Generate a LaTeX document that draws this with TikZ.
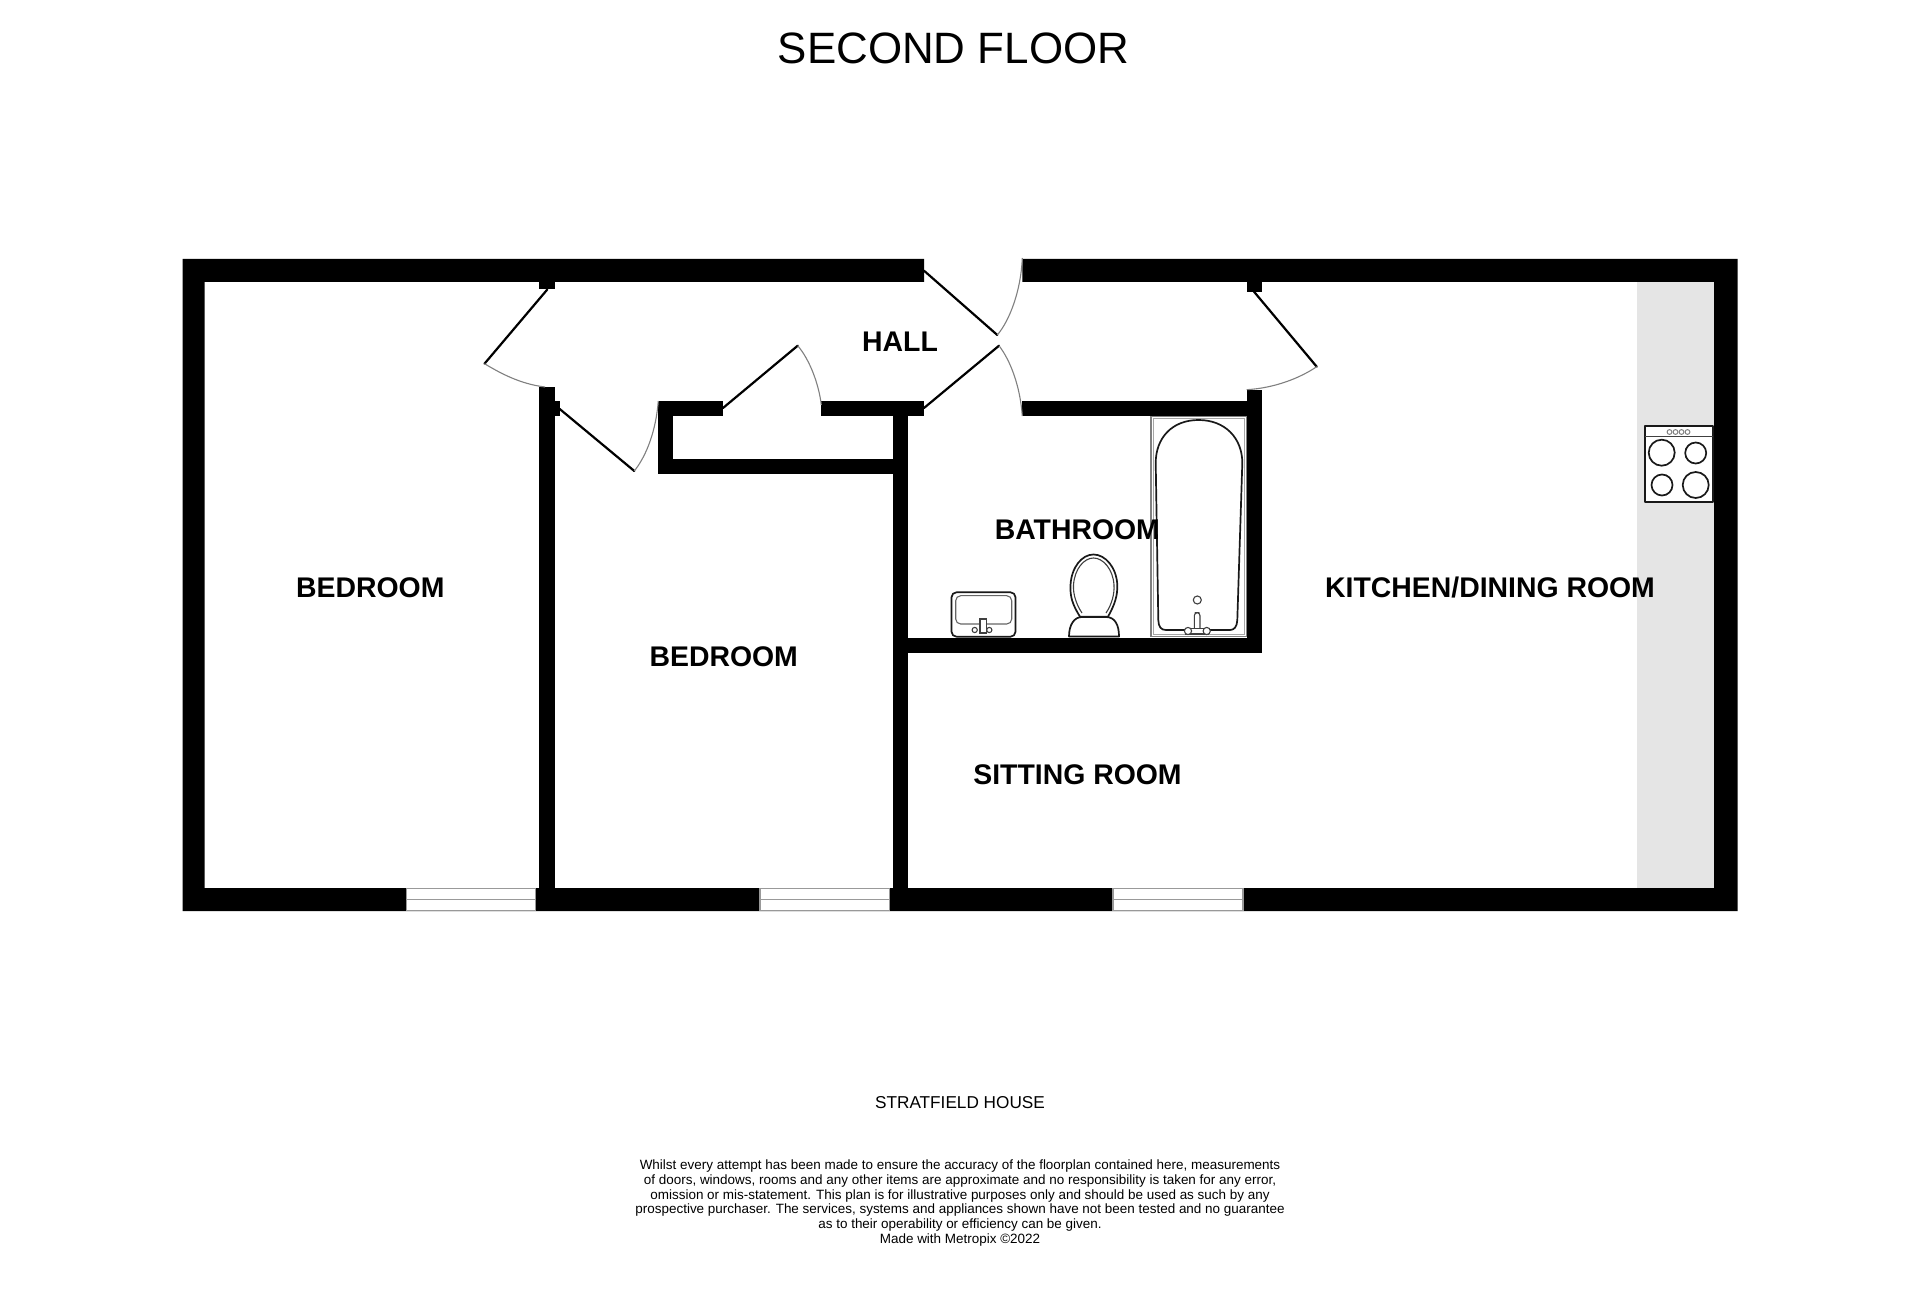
\documentclass[tikz,border=0pt]{standalone}
\usepackage{fontspec}
\setmainfont{Liberation Sans}
\definecolor{strip}{HTML}{E5E5E5}
\definecolor{fine}{HTML}{808080}
\tikzset{
  wall/.style={fill=black,draw=none},
  leaf/.style={draw=black,line width=1.1pt,line cap=round},
  swing/.style={draw=fine,line width=0.55pt},
  fix/.style={draw=black!90,line width=0.85pt,fill=white,line join=round},
  thinfix/.style={draw=black!75,line width=0.55pt,fill=white},
  glass/.style={draw=fine!80,line width=0.8pt,fill=white},
  room/.style={font=\fontsize{14.2pt}{16pt}\selectfont\bfseries,inner sep=0pt,text=black},
}
\begin{document}
\begin{tikzpicture}[x=0.5pt,y=-0.5pt]
\useasboundingbox (0,0) rectangle (1920,1309);
\fill[white] (0,0) rectangle (1920,1309);
% worktop strip
\fill[strip] (1637,282) rectangle (1714,888);
% outer walls
\fill[wall] (182.5,259) -- (924,259) -- (924,282) -- (204.5,282) -- (204.5,888) -- (1714,888) -- (1714,282) -- (1022.3,282) -- (1022.3,259) -- (1737.6,259) -- (1737.6,911) -- (182.5,911) -- cycle;
% bedroom partition and nubs
\fill[wall] (539.3,282) rectangle (555,289.5);
\fill[wall] (539.3,387) rectangle (555,888);
\fill[wall] (555,401) rectangle (559.7,416);
\fill[wall] (1246.7,282) rectangle (1261.7,291.7);
% cupboard
\fill[wall] (658,401) rectangle (723,416);
\fill[wall] (821.3,401) rectangle (924,416);
\fill[wall] (658,401) rectangle (673,474.3);
\fill[wall] (658,459) rectangle (908.3,474.3);
\fill[wall] (893,401) rectangle (908.3,888);
% bathroom
\fill[wall] (1022.3,401) rectangle (1261.7,416.5);
\fill[wall] (1246.7,389.7) rectangle (1261.7,653.3);
\fill[wall] (893,638) rectangle (1261.7,653.3);
% windows
\foreach \a/\b in {406.5/535.5,760/889.5,1113/1243}{
  \draw[glass] (\a,888.5) rectangle (\b,910.5);
  \draw[glass] (\a,899.5) -- (\b,899.5);
}
% doors
\draw[leaf] (547.3,289.5) -- (484.5,363.7);
\draw[swing] (484.5,363.7) .. controls (500,373) and (520,384) .. (545,387);
\draw[leaf] (559.7,409) -- (634.3,471);
\draw[swing] (634.3,471) .. controls (647,455) and (656,430) .. (658.3,401);
\draw[leaf] (723,408) -- (797.7,345.7);
\draw[swing] (797.7,345.7) .. controls (810,360) and (819,385) .. (821.3,405);
\draw[leaf] (924,270.7) -- (997.3,335);
\draw[swing] (997.3,335) .. controls (1010,320) and (1021,290) .. (1022.3,258);
\draw[leaf] (924,408) -- (999,345.7);
\draw[swing] (999,345.7) .. controls (1010,360) and (1020,385) .. (1022.3,416);
\draw[leaf] (1254,291.7) -- (1316.7,366.7);
\draw[swing] (1316.7,366.7) .. controls (1300,378) and (1275,388) .. (1246.7,389.7);
% bath
\draw[draw=fine,line width=0.75pt,fill=white] (1151,416.5) rectangle (1246.5,636.5);
\draw[draw=fine!70,line width=0.4pt] (1153,418.5) rectangle (1244.5,634.5);
\draw[fix] (1158.3,620) -- (1155.7,463) .. controls (1155.7,438) and (1172,420) .. (1198.5,420) .. controls (1225,420) and (1242.3,438) .. (1242.3,463) -- (1237.3,620) .. controls (1237,627) and (1234,630) .. (1230,630) -- (1166,630) .. controls (1161,630) and (1158.5,627) .. (1158.3,620) -- cycle;
\draw[thinfix] (1197.3,600) circle (4);
\draw[thinfix,rounded corners=1.5pt] (1194.3,634) -- (1194.3,612.7) -- (1200,612.7) -- (1200,634);
\draw[thinfix] (1186,628.5) rectangle (1208.5,634);
\draw[thinfix] (1188,631) circle (3.6);
\draw[thinfix] (1206.7,631) circle (3.6);
% toilet
\draw[fix] (1080,616.7) .. controls (1072,604) and (1070,596) .. (1070.5,585) .. controls (1071.5,567) and (1082,554.5) .. (1093.5,554.5) .. controls (1105,554.5) and (1116.5,567) .. (1117.3,585) .. controls (1117.5,596) and (1115,604) .. (1108,616.7) -- cycle;
\draw[thinfix] (1082,613) .. controls (1076,604) and (1073,594) .. (1073.5,585) .. controls (1074.5,569) and (1084,558) .. (1093.5,558) .. controls (1103,558) and (1113,569) .. (1114,585) .. controls (1114.5,594) and (1112,604) .. (1106,613);
\draw[fix] (1069,636.5) .. controls (1069,625) and (1074,617) .. (1082,617) -- (1106,617) .. controls (1115,617) and (1119,625) .. (1119,636.5) -- cycle;
% basin
\draw[fix,rounded corners=2.5pt] (951.5,592.3) rectangle (1015.5,636.7);
\draw[draw=black!60,line width=0.55pt,rounded corners=2.5pt] (955.7,595.7) rectangle (1011.7,624);
\draw[thinfix] (980,619) rectangle (986.7,633);
\draw[thinfix] (974.7,630) circle (2.6);
\draw[thinfix] (989.3,630) circle (2.6);
% cooker
\draw[fix] (1645,426) rectangle (1713,502);
\draw[thinfix] (1645,436.7) -- (1713,436.7);
\foreach \p/\q/\r in {1661.7/452.7/13,1695.7/453/10.5,1662/485/10.5,1695.7/485/13}{
  \draw[fix] (\p,\q) circle (\r);
}
\foreach \p in {1669.5,1675.5,1681.5,1687.5}{
  \draw[draw=fine,line width=0.5pt] (\p,432) circle (2.4);
}
% labels
\node[font=\fontsize{21.95pt}{26pt}\selectfont,inner sep=0pt] (title) at (953.5,48) {SECOND FLOOR};
\node[room] (hall) at (900,342.2) {HALL};
\node[room] (bed1) at (370.3,587.5) {BEDROOM};
\node[room] (bed2) at (723.7,657) {BEDROOM};
\node[room] (bath) at (1077.3,530) {BATHROOM};
\node[room] (kitchen) at (1490,587.5) {KITCHEN/DINING ROOM};
\node[room] (sitting) at (1077.5,775) {SITTING ROOM};
\node[font=\fontsize{8.6pt}{10pt}\selectfont,inner sep=0pt] (house) at (960,1103) {STRATFIELD HOUSE};
\node[font=\fontsize{6.73pt}{7.45pt}\selectfont,inner sep=0pt,align=center] (note) at (960,1203) {Whilst every attempt has been made to ensure the accuracy of the floorplan contained here, measurements\\
of doors, windows, rooms and any other items are approximate and no responsibility is taken for any error,\\
omission or mis-statement. This plan is for illustrative purposes only and should be used as such by any\\
prospective purchaser. The services, systems and appliances shown have not been tested and no guarantee\\
as to their operability or efficiency can be given.\\
Made with Metropix ©2022};
\end{tikzpicture}
\end{document}
